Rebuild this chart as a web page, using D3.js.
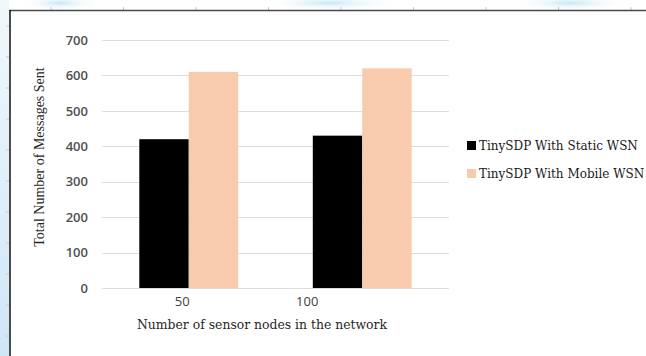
<!DOCTYPE html>
<html><head><meta charset="utf-8">
<script src="https://cdn.jsdelivr.net/npm/d3@7/dist/d3.min.js"></script>
<style>body{margin:0;background:#fff}svg{display:block}</style>
</head><body>
<svg id="c" width="646" height="356"></svg>
<script>
const categories = ["50", "100"];
const seriesNames = ["TinySDP With Static WSN", "TinySDP With Mobile WSN"];
const staticValues = [420, 430];
const mobileValues = [610, 620];
const yTicks = [0, 100, 200, 300, 400, 500, 600, 700];
const colors = ["#000000", "#f7cbab"];

const svg = d3.select("#c");
const W = 646, H = 356;

// page background decorations (screenshot frame)
const defs = svg.append("defs");
const lg = defs.append("linearGradient").attr("id","lg").attr("x1",0).attr("y1",0).attr("x2",0).attr("y2",1);
lg.append("stop").attr("offset","0").attr("stop-color","#f1f8fc");
lg.append("stop").attr("offset","1").attr("stop-color","#cfe6f6");
svg.append("rect").attr("x",0).attr("y",0).attr("width",9).attr("height",H).attr("fill","url(#lg)");
const tg = defs.append("radialGradient").attr("id","tg");
tg.append("stop").attr("offset","0").attr("stop-color","#c6e6f8");
tg.append("stop").attr("offset","1").attr("stop-color","#ffffff").attr("stop-opacity",0);
[[60,40],[330,70],[570,60]].forEach(([cx,rx])=>{
  svg.append("ellipse").attr("cx",cx).attr("cy",3).attr("rx",rx).attr("ry",8).attr("fill","url(#tg)");
});
d3.range(51, 646, 72.5).forEach(x=>{
  svg.append("line").attr("x1",x).attr("x2",x).attr("y1",7).attr("y2",10).attr("stroke","#c8c8c8");
});
d3.range(26, 356, 31).forEach(y=>{
  svg.append("line").attr("x1",6).attr("x2",9).attr("y1",y).attr("y2",y).attr("stroke","#c8c8c8");
});
svg.append("rect").attr("x",10).attr("y",11).attr("width",W-10).attr("height",H-11).attr("fill","#fff");
svg.append("line").attr("x1",9).attr("x2",W).attr("y1",10.5).attr("y2",10.5).attr("stroke","#4a4a4a").attr("stroke-width",1.5);
svg.append("line").attr("x1",10).attr("x2",10).attr("y1",10).attr("y2",H).attr("stroke","#111").attr("stroke-width",1.5);

// chart
const plot = {left:102, right:449, top:40, bottom:288};
const y = d3.scaleLinear().domain([0,700]).range([plot.bottom, plot.top]);
const x = d3.scaleBand().domain(categories).range([plot.left, plot.right]).paddingInner(0.43).paddingOuter(0.215);
const xs = d3.scaleBand().domain(seriesNames).range([0, x.bandwidth()]);
const labelX = d3.scalePoint().domain(categories).range([plot.left + 0.23*(plot.right-plot.left), plot.left + 0.59*(plot.right-plot.left)]);

const g = svg.append("g");
g.selectAll("line.grid").data(yTicks).join("line").attr("class","grid")
  .attr("x1",plot.left).attr("x2",plot.right)
  .attr("y1",d=>Math.round(y(d))+0.5).attr("y2",d=>Math.round(y(d))+0.5)
  .attr("stroke","#dedede").attr("stroke-width",1.2);

const yAxis = d3.axisLeft(y).tickValues(yTicks).tickSize(0).tickPadding(0);
const ya = g.append("g").attr("transform","translate(88,0)").call(yAxis);
ya.select(".domain").remove();
ya.selectAll("text").attr("fill","#505050").style("font-family","'Open Sans', sans-serif").style("font-size","13px").style("font-weight","600");

const data = categories.map((c,i)=>({cat:c, vals:[staticValues[i], mobileValues[i]]}));
const grp = g.selectAll("g.grp").data(data).join("g").attr("class","grp").attr("transform",d=>`translate(${x(d.cat)},0)`);
grp.selectAll("rect").data(d=>d.vals.map((v,j)=>({v, s:seriesNames[j], j}))).join("rect")
  .attr("x",d=>xs(d.s)).attr("width",xs.bandwidth())
  .attr("y",d=>y(d.v)).attr("height",d=>y(0)-y(d.v))
  .attr("fill",d=>colors[d.j]);

const xa = g.append("g").attr("transform",`translate(0,${plot.bottom})`)
  .call(d3.axisBottom(labelX).tickSize(0).tickPadding(9));
xa.select(".domain").remove();
xa.selectAll("text").attr("fill","#404040").style("font-family","'Open Sans', sans-serif").style("font-size","13px");

svg.append("text").attr("x",262).attr("y",329).attr("text-anchor","middle")
  .attr("fill","#262626").style("font-family","'DejaVu Serif', serif").style("font-size","12.4px")
  .text("Number of sensor nodes in the network");
svg.append("text").attr("transform","translate(44,157) rotate(-90)").attr("text-anchor","middle")
  .attr("fill","#262626").style("font-family","'Liberation Serif', serif").style("font-size","14px")
  .text("Total Number of Messages Sent");

const leg = svg.append("g");
const li = leg.selectAll("g").data(seriesNames).join("g").attr("transform",(d,i)=>`translate(467,${141+i*28})`);
li.append("rect").attr("width",9).attr("height",9).attr("fill",(d,i)=>colors[i]);
li.append("text").attr("x",12).attr("y",9).attr("fill","#1a1a1a")
  .style("font-family","'DejaVu Serif', serif").style("font-size","12px").text(d=>d);
</script>
</body></html>
